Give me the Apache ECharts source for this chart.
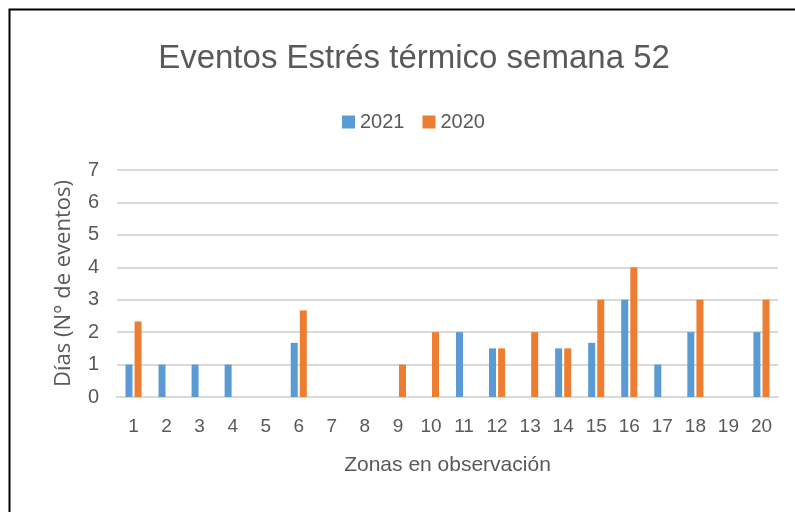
<!DOCTYPE html>
<html>
<head>
<meta charset="utf-8">
<script src="https://cdn.jsdelivr.net/npm/echarts@6/dist/echarts.min.js"></script>
<style>
  html, body { margin: 0; padding: 0; background: #fff; }
  #chart { width: 795px; height: 512px; }
</style>
</head>
<body>
<div id="chart"></div>
<script>
const zonas = ["1","2","3","4","5","6","7","8","9","10","11","12","13","14","15","16","17","18","19","20"]
const v2021 = [1, 1, 1, 1, 0, 1.67, 0, 0, 0, 0, 2, 1.5, 0, 1.5, 1.67, 3, 1, 2, 0, 2]
const v2020 = [2.33, 0, 0, 0, 0, 2.67, 0, 0, 1, 2, 0, 1.5, 2, 1.5, 3, 4, 0, 3, 0, 3]

const font = "'Liberation Sans', sans-serif"
const chart = echarts.init(document.getElementById("chart"))
chart.setOption({
  animation: false,
  graphic: [{
    type: "rect",
    shape: { x: 9.5, y: 9.5, width: 800, height: 520 },
    style: { fill: "none", stroke: "#000", lineWidth: 2 }
  }],
  title: {
    text: "Eventos Estrés térmico semana 52",
    left: 409,
    textAlign: "center",
    top: 37,
    textStyle: { fontFamily: font, fontSize: 33, fontWeight: "normal", color: "#595959" }
  },
  legend: {
    top: 107,
    left: 337,
    itemWidth: 13,
    itemHeight: 13,
    itemGap: 18,
    icon: "rect",
    textStyle: { fontFamily: font, fontSize: 20, color: "#595959" },
    data: ["2021", "2020"]
  },
  grid: { left: 117, right: 17, top: 170, bottom: 115 },
  xAxis: {
    type: "category",
    data: zonas,
    name: "Zonas en observación",
    nameLocation: "middle",
    nameGap: 58,
    nameTextStyle: { fontFamily: font, fontSize: 21, color: "#595959" },
    axisTick: { show: false },
    axisLine: { lineStyle: { color: "#d9d9d9", width: 2 } },
    axisLabel: { fontFamily: font, fontSize: 19, color: "#595959", margin: 20 }
  },
  yAxis: {
    type: "value",
    min: 0,
    max: 7,
    interval: 1,
    name: "Días (N° de eventos)",
    nameLocation: "middle",
    nameGap: 42,
    nameTextStyle: { fontFamily: "'Open Sans', sans-serif", fontSize: 22, color: "#595959" },
    axisLine: { show: false },
    axisTick: { show: false },
    splitLine: { lineStyle: { color: "#d9d9d9", width: 2 } },
    axisLabel: { fontFamily: font, fontSize: 20, color: "#595959", margin: 18 }
  },
  series: [
    { name: "2021", type: "bar", data: v2021, barWidth: 7, barGap: "30%",
      itemStyle: { color: "#5b9bd5" } },
    { name: "2020", type: "bar", data: v2020, barWidth: 7,
      itemStyle: { color: "#ed7d31" } }
  ]
})
</script>
</body>
</html>
